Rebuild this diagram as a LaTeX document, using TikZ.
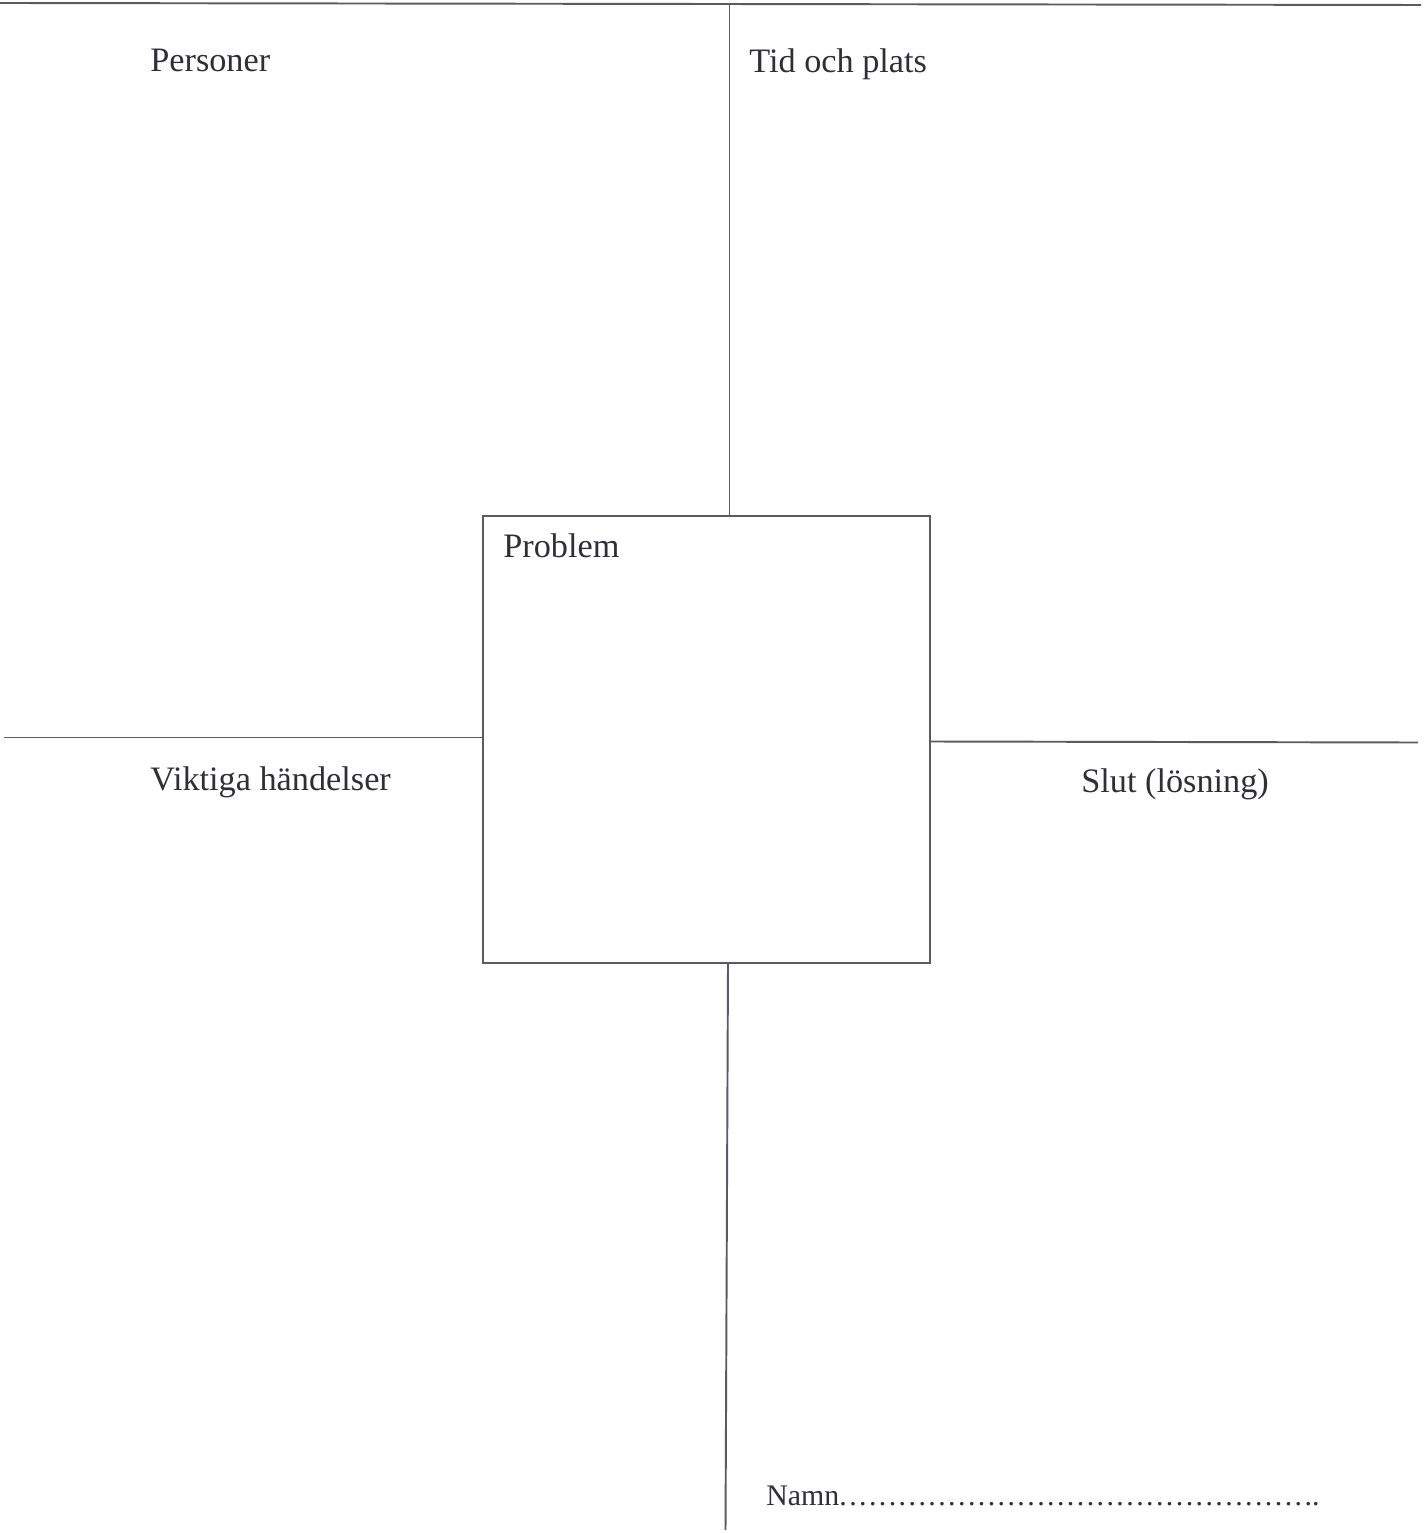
\documentclass[tikz,border=0pt]{standalone}
\usepackage{fontspec}
\setmainfont{Liberation Serif}
\definecolor{inkline}{HTML}{5E5866}
\definecolor{inktext}{HTML}{302E3A}
\newcommand\nd{\makebox[0.198cm][l]{.}}
\newcommand\fivend{\nd\nd\nd\nd\nd}
\begin{document}
\begin{tikzpicture}[x=0.02cm,y=-0.02cm,
  rule/.style={draw=inkline,line width=1.1pt},
  label/.style={anchor=base west,inner sep=0pt,text=inktext,font=\fontsize{19.5}{23}\selectfont},
  namelabel/.style={anchor=base west,inner sep=0pt,text=inktext,font=\fontsize{17}{20}\selectfont}]
\useasboundingbox (0,0) rectangle (1423,1533);
\fill[white] (0,0) rectangle (1423,1533);
% problem box
\coordinate (bnw) at (483,516);
\coordinate (bse) at (930,963);
\draw[rule] (bnw) rectangle (bse);
\coordinate (tl) at (0,3);
\coordinate (tr) at (1421,5);
\coordinate (vtop) at (729.5,3.5);
\coordinate (vtb) at (729.5,516);
\coordinate (vbt) at (728,963);
\coordinate (vbot) at (725.5,1530);
\coordinate (hl) at (4,737.5);
\coordinate (hlr) at (483,737.5);
\coordinate (hrl) at (930,741.5);
\coordinate (hr) at (1418,742.5);
\draw[rule] (tl) -- (tr);
\draw[rule] (vtop) -- (vtb);
\draw[rule] (vbt) -- (vbot);
\draw[rule] (hl) -- (hlr);
\draw[rule] (hrl) -- (hr);
% labels
\node[label] (personer) at (150,72) {Personer};
\node[label] (tid) at (749,73) {Tid och plats};
\node[label] (problem) at (503,557) {Problem};
\node[label] (viktiga) at (150,790) {Viktiga händelser};
\node[label] (slut) at (1081,792) {Slut (lösning)};
\node[namelabel] (namn) at (766,1505) {Namn\fivend\fivend\fivend\fivend\fivend\fivend\fivend\fivend\fivend\nd\nd..};
\end{tikzpicture}
\end{document}
